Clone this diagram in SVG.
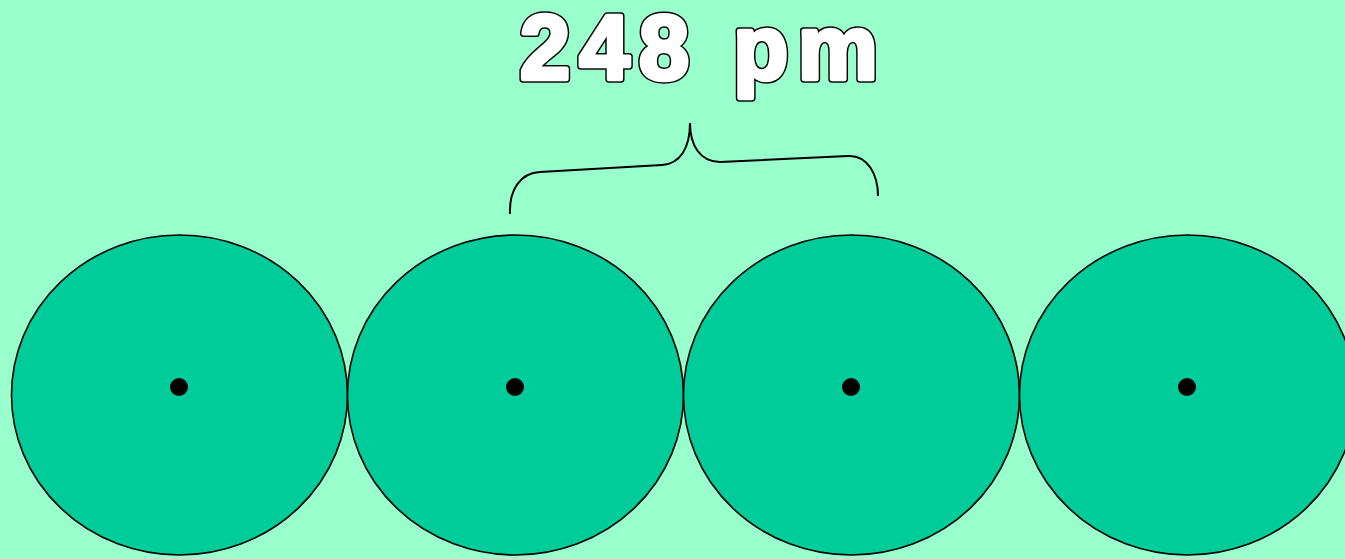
<svg xmlns="http://www.w3.org/2000/svg" xmlns:xlink="http://www.w3.org/1999/xlink" width="1345" height="559" viewBox="0 0 1345 559">
<style>
.atom{fill:#00CC99;stroke:#000;stroke-width:1.6}
.dot{fill:#000}
.lbl{font-family:"Liberation Sans",Arial,sans-serif;font-weight:bold;font-size:90px;letter-spacing:9.5px;stroke-linejoin:round}
.outer{fill:#000;stroke:#000;stroke-width:7.5}
.inner{fill:#fff;stroke:#fff;stroke-width:4.5}
.brace{fill:none;stroke:#000;stroke-width:2;stroke-linecap:butt}
</style>
<rect width="1345" height="559" fill="#99FFCC"/>
<g id="atom1"><ellipse class="atom" cx="179.5" cy="395" rx="168" ry="160"/><circle class="dot" cx="179" cy="387" r="9"/></g>
<g id="atom2"><ellipse class="atom" cx="515.5" cy="395" rx="168" ry="160"/><circle class="dot" cx="515" cy="387" r="9"/></g>
<g id="atom3"><ellipse class="atom" cx="851.5" cy="395" rx="168" ry="160"/><circle class="dot" cx="851" cy="387" r="9"/></g>
<g id="atom4"><ellipse class="atom" cx="1187.5" cy="395" rx="168" ry="160"/><circle class="dot" cx="1187" cy="387" r="9"/></g>
<g id="connectors">
<path class="brace" d="M510,214 C509,190 520,173 540,172 L662,165 C680,164 690,148 690,123 C690,145 700,162 720,162 L848,156 C868,155 878,175 878,196"/>
</g>
<g id="label">
<text class="lbl outer" x="520" y="79" aria-hidden="true">248 pm</text>
<text class="lbl inner" x="520" y="79">248 pm</text>
</g>
</svg>
